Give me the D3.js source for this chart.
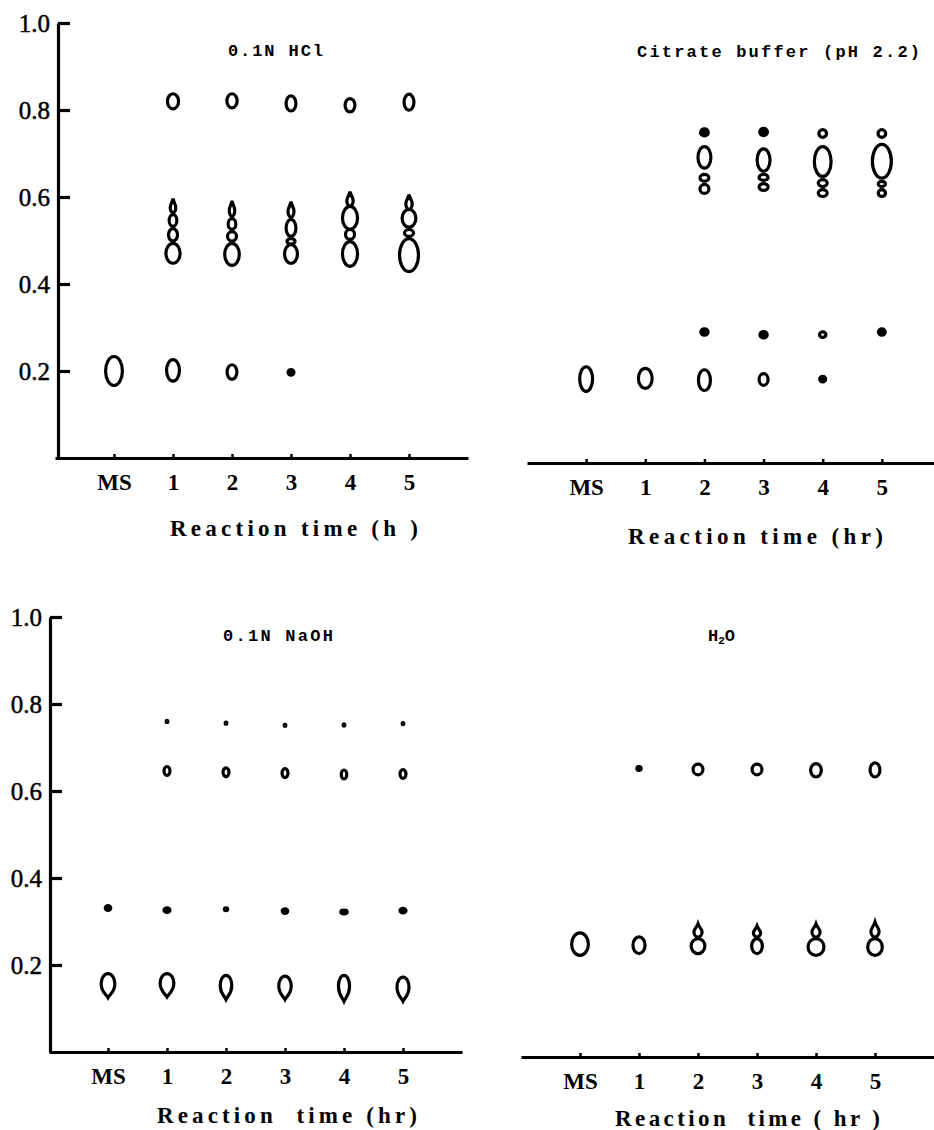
<!DOCTYPE html>
<html>
<head>
<meta charset="utf-8">
<title>TLC spots vs reaction time</title>
<style>
    body { margin: 0; background: #fff; }
    svg text { fill: #000; }
    .yax text { font-family: "Liberation Serif", "Times New Roman", serif; font-size: 25px; stroke: #000; stroke-width: 0.5px; }
    .xax text { font-family: "Liberation Serif", "Times New Roman", serif; font-size: 23px; font-weight: bold; }
    .title { font-family: "Liberation Mono", "Courier New", monospace; font-size: 17px; font-weight: bold; }
    .axtitle { font-family: "Liberation Serif", "Times New Roman", serif; font-size: 23px; font-weight: bold; white-space: pre; }
</style>
<script src="https://cdn.jsdelivr.net/npm/d3@7"></script>
</head>
<body>
<div id="chart"></div>
<script>
    // lanes on the plate and Rf ticks
    var lanes = ["MS", "1", "2", "3", "4", "5"];
    var yTicks = [0.2, 0.4, 0.6, 0.8, 1.0];

    // spot = [lane, Rf top, Rf bottom, spot width (Rf units), shape]
    // shape: o = open spot, f = filled dot, up / down = tailing spot
    var hclSpots = [
        ["MS", 0.237, 0.163, 0.046, "o"],
        ["1", 0.230, 0.173, 0.037, "o"],
        ["2", 0.218, 0.177, 0.030, "o"],
        ["3", 0.207, 0.187, 0.021, "f"],
        ["1", 0.841, 0.799, 0.033, "o"],
        ["2", 0.841, 0.801, 0.031, "o"],
        ["3", 0.836, 0.794, 0.030, "o"],
        ["4", 0.830, 0.792, 0.030, "o"],
        ["5", 0.840, 0.796, 0.030, "o"],
        ["1", 0.600, 0.560, 0.020, "up"],
        ["1", 0.563, 0.529, 0.025, "o"],
        ["1", 0.531, 0.495, 0.028, "o"],
        ["1", 0.497, 0.444, 0.040, "o"],
        ["2", 0.595, 0.552, 0.020, "up"],
        ["2", 0.554, 0.522, 0.025, "o"],
        ["2", 0.524, 0.495, 0.028, "o"],
        ["2", 0.497, 0.439, 0.041, "o"],
        ["3", 0.593, 0.550, 0.021, "up"],
        ["3", 0.552, 0.506, 0.030, "o"],
        ["3", 0.508, 0.488, 0.026, "o"],
        ["3", 0.494, 0.444, 0.037, "o"],
        ["4", 0.616, 0.575, 0.022, "up"],
        ["4", 0.582, 0.522, 0.042, "o"],
        ["4", 0.529, 0.499, 0.028, "o"],
        ["4", 0.501, 0.437, 0.042, "o"],
        ["5", 0.609, 0.568, 0.022, "up"],
        ["5", 0.575, 0.527, 0.039, "o"],
        ["5", 0.529, 0.506, 0.028, "o"],
        ["5", 0.508, 0.425, 0.051, "o"]
    ];

    var citrateSpots = [
        ["MS", 0.225, 0.161, 0.037, "o"],
        ["1", 0.221, 0.168, 0.039, "o"],
        ["2", 0.218, 0.163, 0.035, "o"],
        ["3", 0.209, 0.175, 0.028, "o"],
        ["4", 0.203, 0.183, 0.021, "f"],
        ["2", 0.312, 0.290, 0.024, "f"],
        ["3", 0.306, 0.284, 0.024, "f"],
        ["4", 0.305, 0.285, 0.022, "o"],
        ["5", 0.312, 0.290, 0.023, "f"],
        ["2", 0.772, 0.748, 0.025, "f"],
        ["2", 0.731, 0.674, 0.037, "o"],
        ["2", 0.667, 0.644, 0.028, "o"],
        ["2", 0.644, 0.616, 0.028, "o"],
        ["3", 0.773, 0.749, 0.025, "f"],
        ["3", 0.726, 0.667, 0.037, "o"],
        ["3", 0.667, 0.646, 0.028, "o"],
        ["3", 0.646, 0.623, 0.028, "o"],
        ["4", 0.770, 0.745, 0.025, "o"],
        ["4", 0.731, 0.655, 0.046, "o"],
        ["4", 0.655, 0.632, 0.028, "o"],
        ["4", 0.632, 0.609, 0.028, "o"],
        ["5", 0.770, 0.745, 0.025, "o"],
        ["5", 0.736, 0.651, 0.051, "o"],
        ["5", 0.651, 0.632, 0.024, "o"],
        ["5", 0.632, 0.609, 0.024, "o"]
    ];

    var naohSpots = [
        ["1", 0.766, 0.754, 0.011, "f"],
        ["2", 0.762, 0.750, 0.010, "f"],
        ["3", 0.757, 0.745, 0.011, "f"],
        ["4", 0.758, 0.746, 0.010, "f"],
        ["5", 0.761, 0.749, 0.010, "f"],
        ["1", 0.660, 0.632, 0.021, "o"],
        ["2", 0.657, 0.629, 0.021, "o"],
        ["3", 0.655, 0.627, 0.021, "o"],
        ["4", 0.652, 0.624, 0.020, "o"],
        ["5", 0.653, 0.625, 0.021, "o"],
        ["MS", 0.340, 0.322, 0.020, "f"],
        ["1", 0.335, 0.317, 0.021, "f"],
        ["2", 0.335, 0.321, 0.015, "f"],
        ["3", 0.333, 0.315, 0.020, "f"],
        ["4", 0.330, 0.314, 0.022, "f"],
        ["5", 0.334, 0.316, 0.021, "f"],
        ["MS", 0.184, 0.121, 0.039, "down"],
        ["1", 0.184, 0.123, 0.039, "down"],
        ["2", 0.180, 0.117, 0.034, "down"],
        ["3", 0.178, 0.117, 0.036, "down"],
        ["4", 0.180, 0.113, 0.033, "down"],
        ["5", 0.176, 0.113, 0.035, "down"]
    ];

    var waterSpots = [
        ["1", 0.671, 0.655, 0.017, "f"],
        ["2", 0.677, 0.645, 0.030, "o"],
        ["3", 0.677, 0.645, 0.030, "o"],
        ["4", 0.678, 0.640, 0.032, "o"],
        ["5", 0.680, 0.640, 0.030, "o"],
        ["MS", 0.289, 0.230, 0.046, "o"],
        ["1", 0.280, 0.234, 0.035, "o"],
        ["2", 0.310, 0.272, 0.026, "up"],
        ["2", 0.276, 0.234, 0.039, "o"],
        ["3", 0.305, 0.272, 0.024, "up"],
        ["3", 0.276, 0.234, 0.032, "o"],
        ["4", 0.310, 0.272, 0.026, "up"],
        ["4", 0.276, 0.230, 0.044, "o"],
        ["5", 0.314, 0.272, 0.026, "up"],
        ["5", 0.276, 0.230, 0.041, "o"]
    ];

    var panels = [
        {spots: hclSpots, title: "0.1N HCl", tx: 228, tw: 95, ty: 56,
         xlab: "Reaction time (h )", lx: 170, lw: 248, ly: 536,
         x0: 55, x1: 468, y0: 458, yAxis: 58},
        {spots: citrateSpots, title: "Citrate buffer (pH 2.2)", tx: 637, tw: 283, ty: 57,
         xlab: "Reaction time (hr)", lx: 628, lw: 255, ly: 544,
         x0: 527, x1: 941, y0: 463, yAxis: null},
        {spots: naohSpots, title: "0.1N NaOH", tx: 223, tw: 110, ty: 641,
         xlab: "Reaction  time (hr)", lx: 157, lw: 260, ly: 1123,
         x0: 49, x1: 462, y0: 1052, yAxis: 50},
        {spots: waterSpots, title: "H2O", tx: 708, tw: 38, ty: 641,
         xlab: "Reaction  time ( hr )", lx: 615, lw: 265, ly: 1126,
         x0: 521, x1: 934, y0: 1057, yAxis: null}
    ];

    var plotH = 435;    // pixel height of Rf 0 -> 1
    var sw = 3.2;       // ink width

    var svg = d3.select('#chart')
        .append('svg')
        .attr('width', 934)
        .attr('height', 1130);

    // teardrop outline, tip up or down
    function dropPath(cx, t, b, a, dir) {
        var h = b - t;
        if (dir === "up") {
            return "M" + cx + "," + t +
                "C" + (cx + a * 0.35) + "," + (t + h * 0.3) + " " + (cx + a) + "," + (b - h * 0.6) + " " + (cx + a) + "," + (b - h * 0.38) +
                "A" + a + "," + (h * 0.38) + " 0 0 1 " + (cx - a) + "," + (b - h * 0.38) +
                "C" + (cx - a) + "," + (b - h * 0.6) + " " + (cx - a * 0.35) + "," + (t + h * 0.3) + " " + cx + "," + t + "Z";
        }
        // rounded head on top, short tail underneath
        return "M" + cx + "," + b +
            "C" + (cx + a * 0.3) + "," + (b - h * 0.15) + " " + (cx + a) + "," + (t + h * 0.75) + " " + (cx + a) + "," + (t + h * 0.42) +
            "A" + a + "," + (h * 0.42) + " 0 0 0 " + (cx - a) + "," + (t + h * 0.42) +
            "C" + (cx - a) + "," + (t + h * 0.75) + " " + (cx - a * 0.3) + "," + (b - h * 0.15) + " " + cx + "," + b + "Z";
    }

    panels.forEach(function (p) {
        var x = d3.scalePoint().domain(lanes).range([p.x0, p.x1]).padding(1);
        var y = d3.scaleLinear().domain([0, 1]).range([p.y0, p.y0 - plotH]);
        var g = svg.append('g');

        // x axis: long base line with small bumps at each lane
        var xg = g.append('g')
            .attr('class', 'xax')
            .attr('transform', 'translate(0,' + p.y0 + ')')
            .call(d3.axisBottom(x).tickSize(-4).tickSizeOuter(0).tickPadding(16));
        xg.select('.domain').attr('stroke', '#000').attr('stroke-width', sw);
        xg.selectAll('.tick line').attr('stroke', '#000').attr('stroke-width', 2.5);

        if (p.yAxis !== null) {
            var yg = g.append('g')
                .attr('class', 'yax')
                .attr('transform', 'translate(' + p.yAxis + ',0)')
                .call(d3.axisLeft(y).tickValues(yTicks).tickFormat(d3.format('.1f'))
                    .tickSize(-12).tickSizeOuter(0).tickPadding(8));
            yg.select('.domain').attr('stroke', '#000').attr('stroke-width', sw);
            yg.selectAll('.tick line').attr('stroke', '#000').attr('stroke-width', sw);
        }

        // spots
        p.spots.forEach(function (s) {
            var cx = x(s[0]);
            var t = y(s[1]) + sw / 2;
            var b = y(s[2]) - sw / 2;
            var a = Math.max(s[3] * plotH / 2 - sw / 2, 0.8);
            var filled = s[4] === "f";
            if (s[4] === "up" || s[4] === "down") {
                g.append('path')
                    .attr('d', dropPath(cx, t, b, a, s[4]))
                    .attr('fill', 'none')
                    .attr('stroke', '#000')
                    .attr('stroke-width', sw);
            } else {
                g.append('ellipse')
                    .attr('cx', cx)
                    .attr('cy', (t + b) / 2)
                    .attr('rx', a)
                    .attr('ry', Math.max((b - t) / 2, 0.8))
                    .attr('fill', filled ? '#000' : 'none')
                    .attr('stroke', '#000')
                    .attr('stroke-width', sw);
            }
        });

        // panel title
        var tt = g.append('text')
            .attr('class', 'title')
            .attr('x', p.tx)
            .attr('y', p.ty);
        if (p.title === "H2O") {
            tt.append('tspan').text('H');
            tt.append('tspan').attr('font-size', '11px').attr('dy', 3).text('2');
            tt.append('tspan').attr('dy', -3).text('O');
        } else {
            tt.attr('textLength', p.tw).attr('lengthAdjust', 'spacing').text(p.title);
        }

        // axis title
        g.append('text')
            .attr('class', 'axtitle')
            .attr('x', p.lx)
            .attr('y', p.ly)
            .attr('textLength', p.lw)
            .attr('lengthAdjust', 'spacing')
            .text(p.xlab);
    });
</script>
</body>
</html>
